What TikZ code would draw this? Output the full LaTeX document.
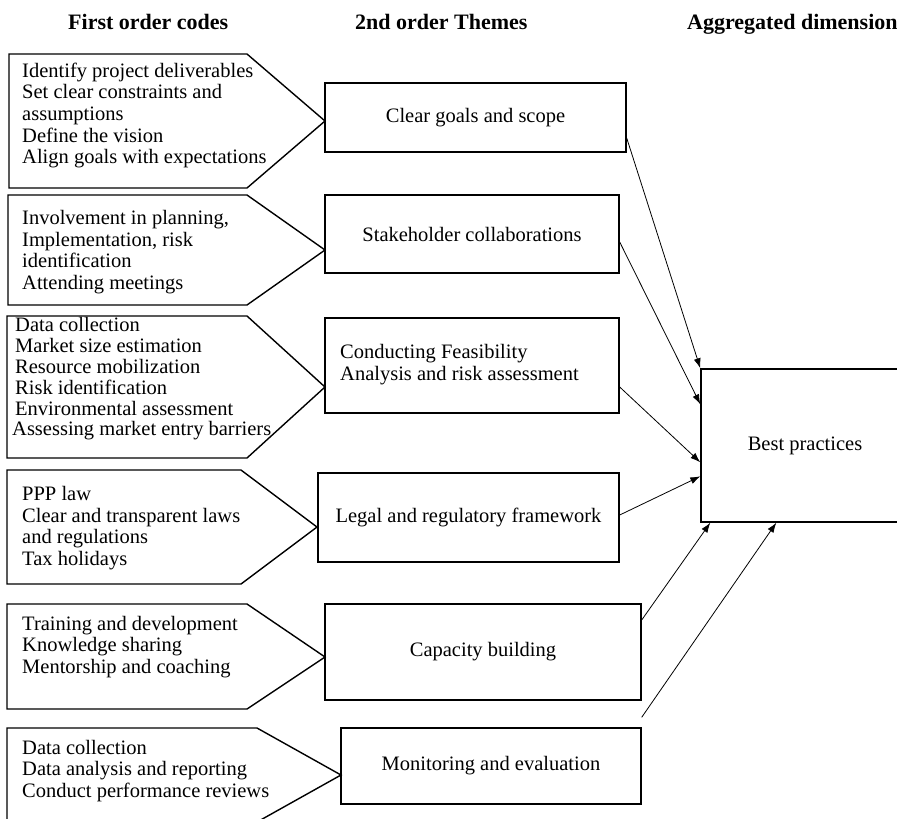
\documentclass[tikz,border=0pt]{standalone}
\usepackage{fontspec}
\setmainfont{Liberation Serif}
\usetikzlibrary{arrows.meta,calc}
\begin{document}
\begin{tikzpicture}[x=1pt,y=-1pt,
  pent/.style={draw,line width=1.4pt,line join=miter},
  codes/.style={anchor=west,align=left,inner sep=0pt,font=\fontsize{20.5}{21.7}\selectfont},
  theme/.style={draw,line width=1.4pt,inner sep=0pt,font=\fontsize{20.5}{21.7}\selectfont,align=center},
  hdr/.style={anchor=base west,inner sep=0pt,font=\fontsize{22}{24}\selectfont\bfseries},
  conn/.style={line width=0.8pt,-{Latex[length=10pt,width=7pt]}}]
\useasboundingbox (0,0) rectangle (897,819);
\clip (0,0) rectangle (897,819);

% headers
\node[hdr] (h1) at (68,29) {First order codes};
\node[hdr] (h2) at (355,29) {2nd order Themes};
\node[hdr] (h3) at (687,29) {Aggregated dimension};

% pentagons (first order codes)
\draw[pent] (9,54) -- (247,54) -- (325,121) coordinate (p1) -- (247,188) -- (9,188) -- cycle;
\draw[pent] (8,195) -- (247,195) -- (325,250) coordinate (p2) -- (247,305) -- (8,305) -- cycle;
\draw[pent] (7,316) -- (247,316) -- (325,387) coordinate (p3) -- (247,458) -- (7,458) -- cycle;
\draw[pent] (7,470) -- (241,470) -- (317,527) coordinate (p4) -- (241,584) -- (7,584) -- cycle;
\draw[pent] (7,604) -- (247,604) -- (325,657) coordinate (p5) -- (247,709) -- (7,709) -- cycle;
\draw[pent] (7,728) -- (257,728) -- (341,775) coordinate (p6) -- (257,822) -- (7,822) -- cycle;

\node[codes] (t1) at (22,115.5) {Identify project deliverables\\Set clear constraints and\\assumptions\\Define the vision\\Align goals with expectations};
\node[codes] (t2) at (22,252) {Involvement in planning,\\Implementation, risk\\identification\\Attending meetings};
\node[codes,font=\fontsize{20.5}{20.8}\selectfont] (t3) at (15,379) {Data collection\\Market size estimation\\Resource mobilization\\Risk identification\\Environmental assessment\\\hspace*{-3pt}Assessing market entry barriers};
\node[codes] (t4) at (22,528) {PPP law\\Clear and transparent laws\\and regulations\\Tax holidays};
\node[codes] (t5) at (22,647) {Training and development\\Knowledge sharing\\Mentorship and coaching};
\node[codes] (t6) at (22,771) {Data collection\\Data analysis and reporting\\Conduct performance reviews};

% themes
\node[theme,minimum width=301,minimum height=69] (cg) at (475.5,117.5) {Clear goals and scope};
\node[theme,minimum width=294,minimum height=78] (sh) at (472,234) {Stakeholder collaborations};
\node[theme,minimum width=294,minimum height=95] (cf) at (472,365.5) {};
\node[codes] (cft) at (340,364.5) {Conducting Feasibility\\Analysis and risk assessment};
\node[theme,minimum width=301,minimum height=89] (lr) at (468.5,517.5) {Legal and regulatory framework};
\node[theme,minimum width=316,minimum height=96] (cb) at (483,652) {Capacity building};
\node[theme,minimum width=300,minimum height=76] (me) at (491,766) {Monitoring and evaluation};

% aggregated dimension
\node[theme,minimum width=208,minimum height=153] (bp) at (805,445.5) {Best practices};

% connectors
\draw[conn] ([yshift=-20.5pt]cg.east) -- (bp.north west);
\draw[conn] ([yshift=-8pt]sh.east) -- ([yshift=-36pt]bp.north west);
\draw[conn] ([yshift=-21.5pt]cf.east) -- ([yshift=-94pt]bp.north west);
\draw[conn] ([yshift=2.5pt]lr.east) -- ([yshift=-108pt]bp.north west);
\draw[conn] ([yshift=32pt]cb.east) -- ([xshift=10pt]bp.south west);
\draw[conn] ([yshift=10pt]me.north east) -- ([xshift=76pt]bp.south west);
\end{tikzpicture}
\end{document}
